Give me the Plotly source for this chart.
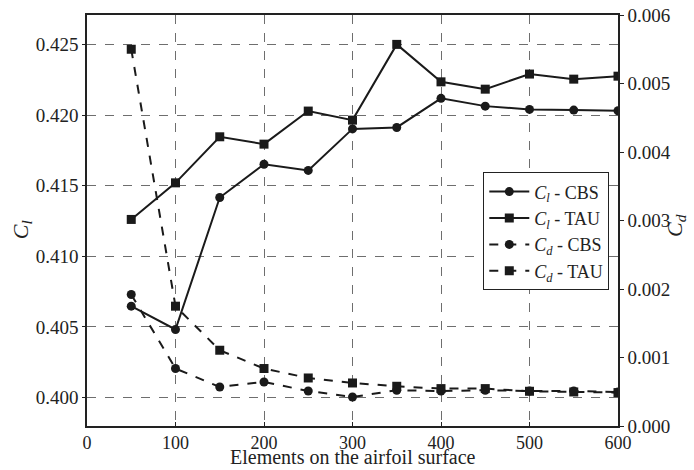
import plotly.graph_objects as go

elements = [50, 100, 150, 200, 250, 300, 350, 400, 450, 500, 550, 600]
cl_cbs = [0.40647, 0.40482, 0.41416, 0.41652, 0.41608, 0.41902, 0.41912, 0.42118, 0.42063, 0.42040, 0.42035, 0.42030]
cl_tau = [0.41261, 0.41520, 0.41846, 0.41794, 0.42028, 0.41964, 0.42500, 0.42235, 0.42183, 0.42290, 0.42254, 0.42275]
cd_cbs = [0.00192, 0.000839, 0.000570, 0.000643, 0.000511, 0.000424, 0.000522, 0.000511, 0.000522, 0.000511, 0.000511, 0.000495]
cd_tau = [0.00550, 0.001749, 0.001106, 0.000839, 0.000701, 0.000628, 0.000580, 0.000546, 0.000546, 0.000507, 0.000497, 0.000488]

names = ["<i>C</i><sub><i>l</i></sub> - CBS", "<i>C</i><sub><i>l</i></sub> - TAU",
         "<i>C</i><sub><i>d</i></sub> - CBS", "<i>C</i><sub><i>d</i></sub> - TAU"]
x_title = "Elements on the airfoil surface"
y_title = "<i>C</i><sub><i>l</i></sub>"
y2_title = "<i>C</i><sub><i>d</i></sub>"

FONT = "Liberation Serif"
LC = "#1a1a1a"
TC = "#222222"
TICKF = dict(family=FONT, size=19, color=TC)

fig = go.Figure()
fig.add_trace(go.Scatter(x=elements, y=cl_cbs, name=names[0], mode="lines+markers",
                         line=dict(color=LC, width=2), marker=dict(symbol="circle", size=9, color=LC)))
fig.add_trace(go.Scatter(x=elements, y=cl_tau, name=names[1], mode="lines+markers",
                         line=dict(color=LC, width=2), marker=dict(symbol="square", size=9, color=LC)))
fig.add_trace(go.Scatter(x=elements, y=cd_cbs, name=names[2], mode="lines+markers", yaxis="y2",
                         line=dict(color=LC, width=2, dash="dash"), marker=dict(symbol="circle", size=9, color=LC)))
fig.add_trace(go.Scatter(x=elements, y=cd_tau, name=names[3], mode="lines+markers", yaxis="y2",
                         line=dict(color=LC, width=2, dash="dash"), marker=dict(symbol="square", size=9, color=LC)))

fig.update_layout(
    width=694, height=470,
    margin=dict(l=87, r=76, t=15, b=44),
    paper_bgcolor="white", plot_bgcolor="white",
    font=dict(family=FONT, size=19, color=TC),
    showlegend=True,
    legend=dict(x=0.9836, y=0.617, xanchor="right", yanchor="top",
                bgcolor="white", bordercolor="#222", borderwidth=1,
                font=dict(family=FONT, size=18, color=TC),
                tracegroupgap=0, itemwidth=40),
    xaxis=dict(range=[0, 600], dtick=100, tick0=0, showline=True, linecolor="#222", linewidth=1.5,
               mirror=True, showgrid=True, gridcolor="#6e6e6e", griddash="dash", gridwidth=1,
               ticks="inside", ticklen=4, tickcolor="#222", zeroline=False, automargin=False,
               tickfont=dict(family=FONT, size=18, color=TC)),
    yaxis=dict(range=[0.39799, 0.42708], dtick=0.005, tick0=0.4, tickformat=".3f",
               showline=True, linecolor="#222", linewidth=1.5, ticks="outside", ticklen=3,
               tickcolor="#222", showgrid=True, gridcolor="#6e6e6e", griddash="dash", gridwidth=1,
               zeroline=False, automargin=False, tickfont=TICKF),
    yaxis2=dict(range=[0, 0.006], dtick=0.001, tick0=0, tickformat=".3f", overlaying="y", side="right",
                showline=True, linecolor="#222", linewidth=1.5, ticks="outside", ticklen=4,
                tickcolor="#222", showgrid=False, zeroline=False, automargin=False, tickfont=TICKF),
    annotations=[
        dict(text=x_title, xref="paper", yref="paper", x=0.5, y=-0.0763, xanchor="center", yanchor="middle",
             showarrow=False, font=dict(family=FONT, size=20, color=TC)),
        dict(text=y_title, xref="paper", yref="paper", x=-0.1224, y=0.4765, xanchor="center", yanchor="middle",
             textangle=-90, showarrow=False, font=dict(family=FONT, size=22, color=TC)),
        dict(text=y2_title, xref="paper", yref="paper", x=1.109, y=0.489, xanchor="center", yanchor="middle",
             textangle=-90, showarrow=False, font=dict(family=FONT, size=22, color=TC)),
    ],
)

fig.write_html("out.html")
